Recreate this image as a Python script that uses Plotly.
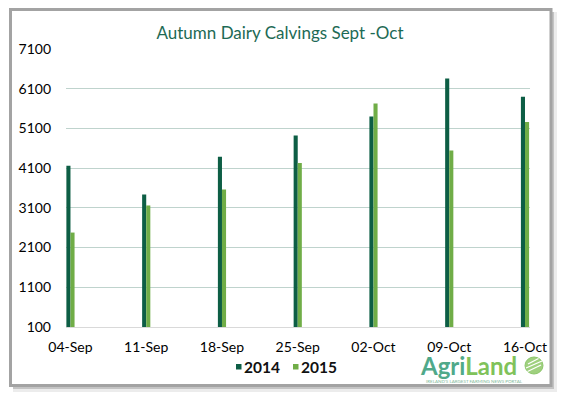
import plotly.graph_objects as go

categories = ["04-Sep", "11-Sep", "18-Sep", "25-Sep", "02-Oct", "09-Oct", "16-Oct"]
values_2014 = [4160, 3435, 4386, 4925, 5400, 6355, 5900]
values_2015 = [2478, 3160, 3560, 4232, 5725, 4543, 5260]
y_ticks = [100, 1100, 2100, 3100, 4100, 5100, 6100, 7100]
series_names = ["2014", "2015"]
series_colors = ["#0d5e45", "#70ad47"]

W, H = 564, 396
L, R, T, B = 66, 34, 49, 69
PW, PH = W - L - R, H - T - B


def px(x):
    return (x - L) / PW


def py(y):
    return (H - B - y) / PH


xpos = list(range(len(categories)))

fig = go.Figure()
for name, vals, col in zip(series_names, [values_2014, values_2015], series_colors):
    fig.add_trace(go.Bar(x=xpos, y=vals, name=name, marker_color=col,
                         marker_line_width=0, showlegend=False))

shapes = []
# frame shadow and border
shapes.append(dict(type="rect", xref="paper", yref="paper", layer="below",
                   x0=px(13), x1=px(557), y0=py(12), y1=py(392),
                   fillcolor="#ececec", line_width=0))
shapes.append(dict(type="rect", xref="paper", yref="paper", layer="below",
                   x0=px(13), x1=px(554), y0=py(12), y1=py(389),
                   fillcolor="#c4c4c4", line_width=0))
shapes.append(dict(type="rect", xref="paper", yref="paper", layer="below",
                   x0=px(10.5), x1=px(551), y0=py(9.5), y1=py(385.5),
                   fillcolor="white", line=dict(color="#a3a3a3", width=3)))
# logo circle
shapes.append(dict(type="circle", xref="paper", yref="paper",
                   x0=px(525), x1=px(543), y0=py(357), y1=py(374),
                   fillcolor="#9fd07e", line=dict(color="#8cc66a", width=1)))
for (a, b) in [((526, 368), (542, 361)), ((527.5, 371.5), (541, 365)), ((528, 364), (538.5, 358.5))]:
    shapes.append(dict(type="line", xref="paper", yref="paper",
                       x0=px(a[0]), y0=py(a[1]), x1=px(b[0]), y1=py(b[1]),
                       line=dict(color="white", width=1.3)))

annotations = [
    dict(text="<b><span style='color:#50a98a'>Agri</span><span style='color:#80c25a'>Land</span></b>",
         xref="paper", yref="paper", x=px(468.5), y=py(365), xanchor="center", yanchor="middle",
         showarrow=False, font=dict(family="Lato", size=24)),
    dict(text="IRELAND'S LARGEST FARMING NEWS PORTAL",
         xref="paper", yref="paper", x=px(474.5), y=py(381.5), xanchor="center", yanchor="middle",
         showarrow=False, font=dict(family="Lato", size=4.5, color="#7fb99a")),
]

# custom legend
leg_sq_x = [236, 293]
leg_tx_x = [242, 299]
for name, col, sx, tx in zip(series_names, series_colors, leg_sq_x, leg_tx_x):
    shapes.append(dict(type="rect", xref="paper", yref="paper",
                       x0=px(sx), x1=px(sx + 5.5), y0=py(364), y1=py(369.5),
                       fillcolor=col, line_width=0))
    annotations.append(dict(text="<b>" + name + "</b>", xref="paper", yref="paper",
                            x=px(tx), y=py(366.5), xanchor="left", yanchor="middle",
                            showarrow=False,
                            font=dict(family="Lato", size=15.5, color="#111111")))

fig.update_layout(
    width=W, height=H,
    margin=dict(l=L, r=R, t=T, b=B, autoexpand=False),
    paper_bgcolor="white",
    plot_bgcolor="rgba(0,0,0,0)",
    barmode="group", bargap=0.892, bargroupgap=0.0,
    title=dict(text="Autumn Dairy Calvings Sept -Oct", x=280 / W, xref="container",
               y=1 - 33 / H, yref="container", xanchor="center", yanchor="middle",
               font=dict(family="Lato", size=17, color="#1d6a55")),
    font=dict(family="Lato", color="#000000"),
    xaxis=dict(range=[-0.059, 6.066], tickvals=xpos, ticktext=categories,
               showgrid=False, zeroline=False, showline=True, linecolor="#d9d9d9",
               linewidth=1, ticks="", ticklabelstandoff=7,
               tickfont=dict(family="Lato", size=14, color="#000000")),
    yaxis=dict(range=[100, 7100], tickvals=y_ticks, ticktext=[str(v) for v in y_ticks],
               showgrid=True, gridcolor="#bfd3cd", gridwidth=1, zeroline=False,
               showline=False, ticks="", ticklabelstandoff=14,
               tickfont=dict(family="Lato", size=14, color="#000000")),
    showlegend=False,
    shapes=shapes,
    annotations=annotations,
)

fig.write_html("out.html", config={"displayModeBar": False},
               post_script="document.body.style.margin='0';")
